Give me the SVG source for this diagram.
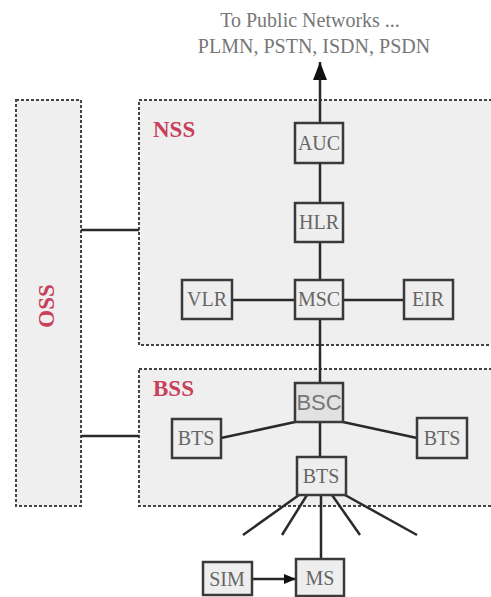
<svg xmlns="http://www.w3.org/2000/svg" width="491" height="597" viewBox="0 0 491 597">
<style>
.grp{fill:#efefef;stroke:#444;stroke-width:2;stroke-dasharray:3 2}
.box{fill:#eeeeee;stroke:#3a3a3a;stroke-width:2.5}
.lbl{font-family:"Liberation Serif","Times New Roman",serif;font-size:20px;fill:#666;text-anchor:middle}
.sans{font-family:"Liberation Sans",Arial,sans-serif;font-size:22px;fill:#777;text-anchor:middle}
.red{font-family:"Liberation Serif","Times New Roman",serif;font-size:23px;font-weight:bold;fill:#c8405a}
.top{font-family:"Liberation Serif","Times New Roman",serif;font-size:20px;fill:#777;text-anchor:middle}
.ln{stroke:#2a2a2a;stroke-width:2.5;fill:none}
</style>
<defs>
<marker id="ah" viewBox="0 0 18 14" refX="18" refY="7" markerWidth="18" markerHeight="14" orient="auto" markerUnits="userSpaceOnUse">
<path d="M0,0 L18,7 L0,14 z" fill="#111"/>
</marker>
<marker id="ah2" viewBox="0 0 12 10" refX="12" refY="5" markerWidth="12" markerHeight="10" orient="auto" markerUnits="userSpaceOnUse">
<path d="M0,0 L12,5 L0,10 z" fill="#111"/>
</marker>
</defs>
<rect width="491" height="597" fill="#fff"/>
<g id="groups">
<rect id="OSS" class="grp" x="16" y="100" width="65" height="406"/>
<rect id="NSS" class="grp" x="139" y="100" width="360" height="245"/>
<rect id="BSS" class="grp" x="139" y="369" width="360" height="137"/>
<text class="red" x="153" y="137">NSS</text>
<text class="red" x="153" y="396">BSS</text>
<text class="red" transform="translate(54,306) rotate(-90)" text-anchor="middle">OSS</text>
</g>
<text class="top" x="310" y="27">To Public Networks ...</text>
<text class="top" x="314" y="53">PLMN, PSTN, ISDN, PSDN</text>
<g id="connectors">
<line class="ln" x1="320" y1="123" x2="320" y2="62" stroke-width="3.5" marker-end="url(#ah)"/>
<line class="ln" x1="320" y1="163" x2="320" y2="203"/>
<line class="ln" x1="320" y1="242" x2="320" y2="280"/>
<line class="ln" x1="232" y1="300" x2="295" y2="300"/>
<line class="ln" x1="343" y1="300" x2="404" y2="300"/>
<line class="ln" x1="320" y1="319" x2="320" y2="383"/>
<line class="ln" x1="81" y1="230" x2="139" y2="230"/>
<line class="ln" x1="81" y1="436" x2="139" y2="436"/>
<line class="ln" x1="221" y1="438" x2="295" y2="422"/>
<line class="ln" x1="343" y1="422" x2="417" y2="438"/>
<line class="ln" x1="320" y1="422" x2="320" y2="457"/>
<line class="ln" x1="299" y1="495" x2="243" y2="535"/>
<line class="ln" x1="307" y1="495" x2="282" y2="535"/>
<line class="ln" x1="321" y1="495" x2="321" y2="559"/>
<line class="ln" x1="332" y1="495" x2="360" y2="535"/>
<line class="ln" x1="345" y1="495" x2="417" y2="535"/>
<line class="ln" x1="252" y1="579" x2="296" y2="579" marker-end="url(#ah2)"/>
</g>
<g id="AUC"><rect class="box" x="295" y="123" width="48" height="40"/><text class="lbl" x="319" y="150">AUC</text></g>
<g id="HLR"><rect class="box" x="295" y="203" width="48" height="39"/><text class="lbl" x="319" y="229">HLR</text></g>
<g id="VLR"><rect class="box" x="182" y="280" width="50" height="39"/><text class="lbl" x="207" y="306">VLR</text></g>
<g id="MSC"><rect class="box" x="295" y="280" width="48" height="39"/><text class="lbl" x="319" y="306">MSC</text></g>
<g id="EIR"><rect class="box" x="404" y="280" width="49" height="39"/><text class="lbl" x="428" y="306">EIR</text></g>
<g id="BSC"><rect class="box" x="295" y="383" width="48" height="39" style="fill:#e2e2e2"/><text class="sans" x="319" y="410">BSC</text></g>
<g id="BTS1"><rect class="box" x="172" y="419" width="49" height="39"/><text class="lbl" x="196" y="445">BTS</text></g>
<g id="BTS2"><rect class="box" x="417" y="418" width="50" height="40"/><text class="lbl" x="442" y="445">BTS</text></g>
<g id="BTS3"><rect class="box" x="297" y="457" width="49" height="38"/><text class="lbl" x="321" y="483">BTS</text></g>
<g id="SIM"><rect class="box" x="203" y="562" width="49" height="33"/><text class="lbl" x="227" y="586">SIM</text></g>
<g id="MS"><rect class="box" x="296" y="559" width="48" height="37"/><text class="lbl" x="320" y="585">MS</text></g>
</svg>
